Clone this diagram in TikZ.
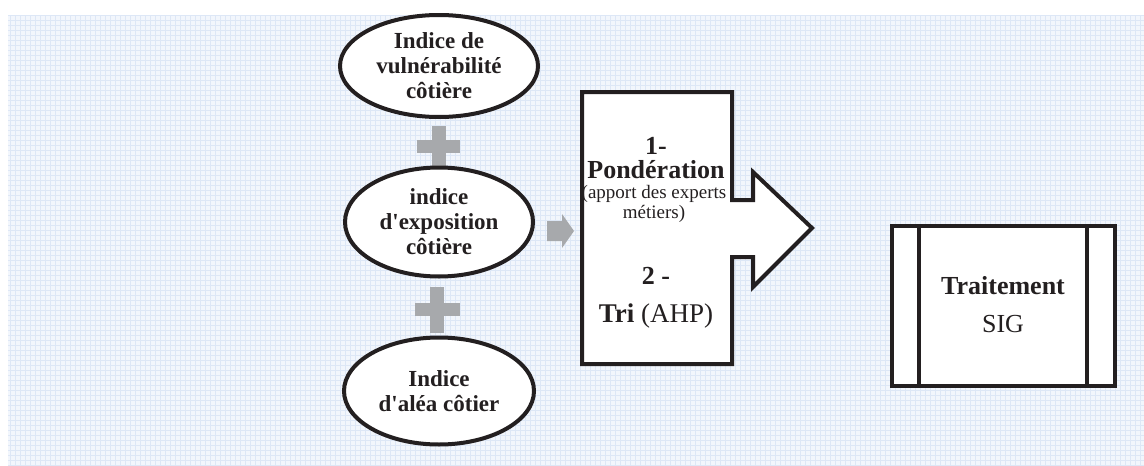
\documentclass[tikz,border=0pt]{standalone}
\usepackage{fontspec}
\setmainfont{Liberation Serif}
\setmonofont{Liberation Serif}
\newcommand{\apos}{{\ttfamily'}}
\usetikzlibrary{shapes.geometric}
\definecolor{ink}{HTML}{231F20}
\definecolor{plusc}{HTML}{A7A9AC}
\definecolor{bgc}{HTML}{F2F6FC}
\definecolor{gridc}{HTML}{DDE7F6}
\begin{document}
\begin{tikzpicture}[x=1pt,y=-1pt,
  ell/.style={ellipse,draw=ink,line width=4pt,fill=white,inner sep=0pt,
    minimum width=#1,align=center,text=ink,
    font=\bfseries\fontsize{23}{25}\selectfont},
  grayshape/.style={fill=plusc,draw=none},
  boxline/.style={draw=ink,line width=4pt,line join=miter,fill=white},
  lbl/.style={text=ink,align=center,inner sep=0pt}]
\useasboundingbox (0,0) rectangle (1144,466);
% background
\fill[bgc] (8,15) rectangle (1144,466);
\draw[gridc,line width=0.6pt,step=5pt] (8,15) grid (1144,466);
% plus signs
\fill[grayshape] (417,140) rectangle (460,153);
\fill[grayshape] (432,126) rectangle (446,172);
\fill[grayshape] (415,303) rectangle (460,316);
\fill[grayshape] (430,287) rectangle (444,333);
% ellipses
\node[ell=198pt,minimum height=102pt] (e1) at (439,66) {Indice de\\vulnérabilité\\côtière};
\node[ell=188pt,minimum height=109pt] (e2) at (439,222) {indice\\d\apos exposition\\côtière};
\node[ell=190pt,minimum height=107pt] (e3) at (439,391) {Indice\\d\apos aléa côtier};
% gray block arrow
\fill[grayshape] (547,221) -- (562,221) -- (562,214) -- (574,231) -- (562,248) -- (562,241) -- (547,241) -- cycle;
% big box with arrow
\draw[boxline] (582,92) -- (732,92) -- (732,200) -- (753,200) -- (753,172) -- (812,228)
  -- (753,287) -- (753,257) -- (732,257) -- (732,364) -- (582,364) -- cycle;
\node[lbl,font=\bfseries\fontsize{26}{26}\selectfont] (t1) at (656,146) {1-};
\node[lbl,font=\bfseries\fontsize{26}{26}\selectfont] (t2) at (656,170) {Pondération};
\node[lbl,font=\fontsize{19}{20}\selectfont] (t3) at (654,204) {(apport des experts\\métiers)};
\node[lbl,font=\bfseries\fontsize{26}{26}\selectfont] (t4) at (656,276) {2 -};
\node[lbl,font=\fontsize{27}{27}\selectfont] (t5) at (656,316) {\textbf{Tri} (AHP)};
% Traitement SIG
\draw[boxline] (892,226) rectangle (1115,386);
\draw[ink,line width=4pt] (919,226) -- (919,386);
\draw[ink,line width=4pt] (1087,226) -- (1087,386);
\node[lbl,font=\fontsize{26}{38}\selectfont] (sig) at (1003,305) {\textbf{Traitement}\\SIG};
\end{tikzpicture}
\end{document}
